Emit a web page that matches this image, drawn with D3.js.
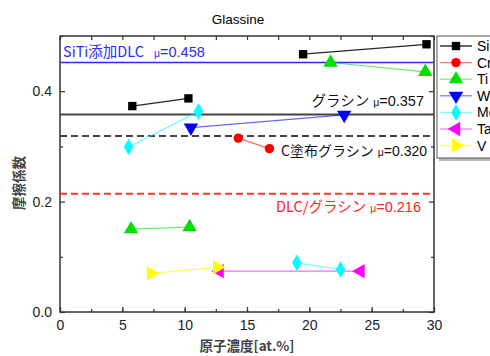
<!DOCTYPE html>
<html lang="ja">
<head>
<meta charset="UTF-8">
<title>Glassine</title>
<style>
  body { margin: 0; background: #fff; }
  text { font-family: "Liberation Sans", Arial, sans-serif; }
  .jp { font-family: "Noto Sans CJK JP", sans-serif; }
</style>
</head>
<body>
<svg width="490" height="356"></svg>
<script src="https://d3js.org/d3.v7.min.js"></script>
<script>
// 元素ごとの測定点（ペアごとに線で結ぶ）
var elements = ["Si", "Cr", "Ti", "W", "Mo", "Ta", "V"];
var colors = ["#000000", "#ff0000", "#00e000", "#0000ff", "#00ffff", "#ff00ff", "#ffff00"];
var si = [[[5.8, 0.373], [10.3, 0.387]], [[19.5, 0.467], [29.4, 0.485]]];
var cr = [[[14.3, 0.315], [16.8, 0.296]]];
var ti = [[[21.7, 0.452], [29.3, 0.435]], [[5.7, 0.150], [10.4, 0.154]]];
var w  = [[[10.5, 0.334], [22.8, 0.357]]];
var mo = [[[5.5, 0.299], [11.1, 0.363]], [[19.0, 0.089], [22.5, 0.077]]];
var ta = [[[12.8, 0.074], [24.1, 0.074]]];
var v  = [[[7.3, 0.070], [12.6, 0.081]]];
var seriesData = [si, cr, ti, w, mo, ta, v];

// 基準線
var refNames = ["SiTi添加DLC", "グラシン", "C塗布グラシン", "DLC/グラシン"];
var refMu = ["0.458", "0.357", "0.320", "0.216"];
var refY = [0.452, 0.358, 0.319, 0.214];

var xTicks = [0, 5, 10, 15, 20, 25, 30];
var yTicks = [0.0, 0.2, 0.4];

var svg = d3.select("svg");
var marge = {top: 36, left: 60, right: 434, bottom: 312};

var x = d3.scaleLinear().domain([0, 30]).range([marge.left, marge.right]);
var y = d3.scaleLinear().domain([0, 0.5]).range([marge.bottom, marge.top]);

// title
svg.append("text").attr("x", 238).attr("y", 24).attr("text-anchor", "middle")
  .style("font-size", "13.5px").text("Glassine");

// axes with inward ticks
var minorX = d3.range(0, 30.1, 2.5);
var minorY = [0.1, 0.3, 0.5];
function gAxis(axis, tr) {
  var g = svg.append("g").attr("transform", tr).call(axis);
  g.select(".domain").remove();
  g.selectAll("line").attr("stroke", "#333").attr("stroke-width", 1.2);
  g.selectAll("text").style("font-size", "14px").attr("fill", "#222")
    .style("font-family", "'Liberation Sans', Arial, sans-serif");
  return g;
}
gAxis(d3.axisBottom(x).tickValues(xTicks).tickSize(-5).tickPadding(8).tickFormat(d3.format("d")),
  "translate(0," + marge.bottom + ")");
gAxis(d3.axisBottom(x).tickValues(minorX).tickSize(-3).tickFormat(""), "translate(0," + marge.bottom + ")");
gAxis(d3.axisTop(x).tickValues(minorX).tickSize(-4).tickFormat(""), "translate(0," + marge.top + ")");
gAxis(d3.axisLeft(y).tickValues(yTicks).tickSize(-5).tickPadding(8).tickFormat(d3.format(".1f")),
  "translate(" + marge.left + ",0)");
gAxis(d3.axisLeft(y).tickValues(minorY).tickSize(-3).tickFormat(""), "translate(" + marge.left + ",0)");
gAxis(d3.axisRight(y).tickValues(yTicks).tickSize(-5).tickFormat(""), "translate(" + marge.right + ",0)");
gAxis(d3.axisRight(y).tickValues(minorY).tickSize(-3).tickFormat(""), "translate(" + marge.right + ",0)");

// frame
svg.append("rect").attr("x", marge.left).attr("y", marge.top)
  .attr("width", marge.right - marge.left).attr("height", marge.bottom - marge.top)
  .attr("fill", "none").attr("stroke", "#333").attr("stroke-width", 1.5);

// axis titles
svg.append("text").attr("class", "jp").attr("x", 247).attr("y", 351).attr("text-anchor", "middle")
  .style("font-size", "13.5px").style("font-weight", "bold").attr("fill", "#444").text("原子濃度[at.%]");
svg.append("text").attr("class", "jp").attr("transform", "translate(24,183) rotate(-90)")
  .attr("text-anchor", "middle").style("font-size", "13.5px").style("font-weight", "bold")
  .attr("fill", "#444").text("摩擦係数");

// reference lines
var refColor = ["#2a2aff", "#444", "#444", "#ff3333"];
var refDash = [null, null, "7,4", "7,4"];
var refWidth = [1.5, 2, 2, 2];
refY.forEach(function(d, i) {
  svg.append("line").attr("x1", marge.left).attr("x2", marge.right)
    .attr("y1", y(d)).attr("y2", y(d))
    .attr("stroke", refColor[i]).attr("stroke-width", refWidth[i])
    .attr("stroke-dasharray", refDash[i]);
});

// reference labels
var labelPos = [
  {x: 63, y: 57, anchor: "start", fill: "#2a2aff", size: 14.5},
  {x: 424, y: 106, anchor: "end", fill: "#111", size: 14.5},
  {x: 427, y: 156, anchor: "end", fill: "#111", size: 14},
  {x: 421, y: 212, anchor: "end", fill: "#ff2222", size: 14.5}
];
labelPos.forEach(function(p, i) {
  var t = svg.append("text").attr("x", p.x).attr("y", p.y).attr("text-anchor", p.anchor)
    .attr("fill", p.fill).style("font-size", p.size + "px");
  t.append("tspan").attr("class", "jp").text(refNames[i]);
  t.append("tspan").attr("dx", i == 0 ? 10 : 4).style("font-size", "10.5px").text("μ");
  t.append("tspan").text("=" + refMu[i]);
});

// markers
var shapes = [d3.symbolSquare, d3.symbolCircle, d3.symbolTriangle, d3.symbolTriangle,
  d3.symbolDiamond, d3.symbolTriangle, d3.symbolTriangle];
var sizes = [70, 70, 90, 90, 80, 90, 90];
var rot = [0, 0, 0, 180, 0, -90, 90];
var lineGen = d3.line().x(function(d) { return x(d[0]); }).y(function(d) { return y(d[1]); });

seriesData.forEach(function(series, i) {
  series.forEach(function(seg) {
    svg.append("path").attr("d", lineGen(seg)).attr("fill", "none")
      .attr("stroke", colors[i]).attr("stroke-opacity", i == 0 ? 0.85 : 0.6).attr("stroke-width", 1.2);
  });
});
seriesData.forEach(function(series, i) {
  series.forEach(function(seg) {
    svg.selectAll(null).data(seg).enter().append("path")
      .attr("d", d3.symbol().type(shapes[i]).size(sizes[i]))
      .attr("transform", function(d) {
        return "translate(" + x(d[0]) + "," + y(d[1]) + ") rotate(" + rot[i] + ")";
      })
      .attr("fill", colors[i]);
  });
});

// legend (右端で切れている)
var lg = svg.append("g").attr("transform", "translate(437,36)");
lg.append("rect").attr("x", 2).attr("y", 2).attr("width", 70).attr("height", 123).attr("fill", "#bbb");
lg.append("rect").attr("width", 70).attr("height", 122).attr("fill", "#fff").attr("stroke", "#555");
elements.forEach(function(name, i) {
  var gy = 10 + i * 16.6;
  lg.append("line").attr("x1", 3).attr("x2", 35).attr("y1", gy).attr("y2", gy)
    .attr("stroke", colors[i]).attr("stroke-opacity", i == 0 ? 1 : 0.55).attr("stroke-width", 1.2);
  lg.append("path").attr("d", d3.symbol().type(shapes[i]).size(sizes[i]))
    .attr("transform", "translate(19," + gy + ") rotate(" + rot[i] + ")").attr("fill", colors[i]);
  lg.append("text").attr("x", 40).attr("y", gy + 5).style("font-size", "14px").text(name);
});
</script>
</body>
</html>
